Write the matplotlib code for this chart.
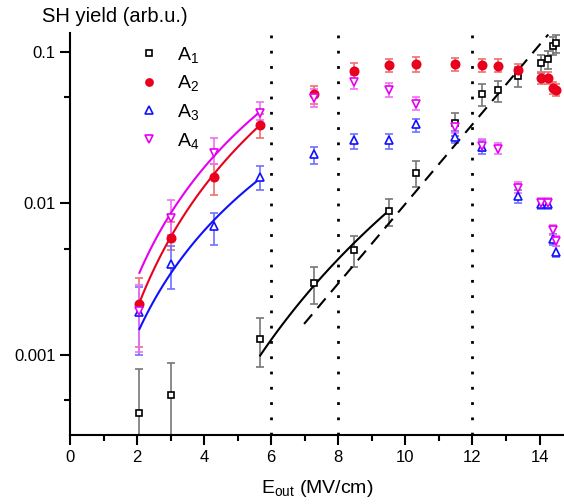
import numpy as np
import matplotlib
matplotlib.use("Agg")
import matplotlib.pyplot as plt

plt.rcParams['font.family'] = ['Liberation Sans', 'DejaVu Sans']
plt.rcParams['mathtext.default'] = 'regular'

# field values (MV/cm)
e_out = [2.07, 3.01, 4.28, 5.67, 7.29, 8.46, 9.50, 10.32, 11.48, 12.29,
         12.76, 13.35, 14.03, 14.26, 14.39, 14.50]

# SH yield, with lower / upper ends of the error bars
a1 = [0.000416, 0.000543, np.nan, 0.00128, 0.00296, 0.00494, 0.0089, 0.0159,
      0.0337, 0.0528, 0.0558, 0.0689, 0.0838, 0.089, 0.1095, 0.1135]
a1_lo = [0.00001, 0.00001, np.nan, 0.00083, 0.00216, 0.0038, 0.0071, 0.0129,
         0.028, 0.0438, 0.0469, 0.0582, 0.072, 0.0765, 0.095, 0.0985]
a1_hi = [0.00081, 0.00089, np.nan, 0.00174, 0.00378, 0.0061, 0.01066, 0.0189,
         0.0396, 0.0612, 0.0644, 0.0796, 0.095, 0.1015, 0.125, 0.129]

a2 = [0.00218, 0.00593, 0.0149, 0.0328, 0.0526, 0.0746, 0.0813, 0.083,
      0.083, 0.0813, 0.0805, 0.0757, 0.0667, 0.0667, 0.058, 0.0561]
a2_lo = [0.00113, 0.0049, 0.0113, 0.0271, 0.0455, 0.066, 0.073, 0.074,
         0.075, 0.073, 0.073, 0.069, 0.061, 0.061, 0.053, 0.051]
a2_hi = [0.0032, 0.0075, 0.0183, 0.0387, 0.0597, 0.084, 0.090, 0.092,
         0.091, 0.090, 0.089, 0.083, 0.073, 0.073, 0.063, 0.061]

a3 = [0.00193, 0.00396, 0.00708, 0.0149, 0.0211, 0.0262, 0.0262, 0.0332,
      0.0273, 0.0234, np.nan, 0.0111, 0.0099, 0.0099, 0.0058, 0.0048]
a3_lo = [0.0010, 0.0027, 0.0053, 0.0122, 0.0182, 0.0228, 0.0228, 0.0297,
         0.025, 0.021, np.nan, 0.0101, 0.0092, 0.0092, 0.0053, 0.0044]
a3_hi = [0.0028, 0.0052, 0.0086, 0.0176, 0.0237, 0.0288, 0.0288, 0.036,
         0.030, 0.026, np.nan, 0.0122, 0.0106, 0.0106, 0.0063, 0.0052]

a4 = [0.00195, 0.0080, 0.0216, 0.0396, 0.0494, 0.0628, 0.0558, 0.045,
      0.032, 0.024, 0.0228, 0.0127, 0.0101, 0.0101, 0.00667, 0.00564]
a4_lo = [0.00104, 0.0062, 0.0183, 0.0354, 0.0434, 0.0565, 0.0506, 0.041,
         0.029, 0.022, 0.021, 0.0117, 0.0094, 0.0094, 0.0062, 0.0052]
a4_hi = [0.0029, 0.0105, 0.0268, 0.0464, 0.057, 0.070, 0.0624, 0.050,
         0.035, 0.0265, 0.025, 0.0138, 0.0108, 0.0108, 0.0072, 0.0061]

# power-law fits y = y0 * (x / x0)^n
fit_a4 = dict(x0=2.07, y0=0.00348, n=2.43, x1=5.67)
fit_a2 = dict(x0=2.07, y0=0.00221, n=2.68, x1=5.67)
fit_a3 = dict(x0=2.07, y0=0.00148, n=2.27, x1=5.67)
fit_a1 = dict(x0=5.67, y0=0.00099, n=4.26, x1=9.50)
# exponential fit (dashed) between two end points
exp_x = [6.98, 14.26]
exp_y = [0.0016, 0.130]

v_lines = [6, 8, 12]

fig = plt.figure(figsize=(5.64, 5.04), dpi=100)
ax = fig.add_axes([70 / 564, 69 / 504, 494 / 564, 402 / 504])


def series(y, lo, hi, color, ecolor, marker, ms, mfc, label):
    y = np.array(y)
    err = [y - np.array(lo), np.array(hi) - y]
    ax.errorbar(e_out, y, yerr=err, fmt='none', ecolor=ecolor, elinewidth=1.2,
                capsize=3.2, capthick=1.2, zorder=2)
    ax.plot(e_out, y, linestyle='none', marker=marker, ms=ms, mfc=mfc,
            mec=color, mew=1.2, label=label, zorder=4)


def power_fit(f, color):
    xs = np.linspace(f['x0'], f['x1'], 100)
    ax.plot(xs, f['y0'] * (xs / f['x0']) ** f['n'], color=color, lw=1.5, zorder=3)


series(a1, a1_lo, a1_hi, 'black', '#777777', 's', 4.5, 'white', 'A$_1$')
series(a2, a2_lo, a2_hi, '#e8001c', '#ef6f6f', 'o', 6, '#e8001c', 'A$_2$')
series(a3, a3_lo, a3_hi, '#1010ff', '#6f6fff', '^', 6, 'white', 'A$_3$')
series(a4, a4_lo, a4_hi, '#e600f0', '#f070f5', 'v', 6, 'white', 'A$_4$')

power_fit(fit_a4, '#e600f0')
power_fit(fit_a2, '#e8001c')
power_fit(fit_a3, '#1010ff')
power_fit(fit_a1, 'black')

b = np.log(exp_y[1] / exp_y[0]) / (exp_x[1] - exp_x[0])
xs = np.linspace(exp_x[0], exp_x[1], 100)
ax.plot(xs, exp_y[0] * np.exp(b * (xs - exp_x[0])), color='black', lw=1.5,
        linestyle=(0, (6, 4)), zorder=3)

for xv in v_lines:
    ax.axvline(xv, color='black', lw=2, linestyle=(0, (1, 4.5)), zorder=1)

ax.set_yscale('log')
ax.set_xlim(0, 14.73)
ax.set_ylim(0.000296, 0.133)
ax.set_xticks(range(0, 15, 2))
ax.set_xticks(range(1, 15, 2), minor=True)
ax.yaxis.set_major_locator(matplotlib.ticker.LogLocator(base=10, numticks=10))
ax.yaxis.set_minor_locator(matplotlib.ticker.LogLocator(base=10, subs=[5], numticks=10))
ax.yaxis.set_major_formatter(matplotlib.ticker.FuncFormatter(lambda v, p: f'{v:g}'))
ax.yaxis.set_minor_formatter(matplotlib.ticker.NullFormatter())

for s in ['top', 'right']:
    ax.spines[s].set_visible(False)
for s in ['left', 'bottom']:
    ax.spines[s].set_linewidth(1.5)
ax.tick_params(which='major', direction='out', length=7, width=1.5, labelsize=12)
ax.tick_params(which='minor', direction='out', length=4, width=1.5)

ax.set_xlabel('E$_{out}$ (MV/cm)', fontsize=14, labelpad=10)
fig.text(42 / 564, 1 - 16 / 504, 'SH yield (arb.u.)', fontsize=14.5,
         ha='left', va='center')

leg = ax.legend(loc='upper left', bbox_to_anchor=(0.11, 0.995), frameon=False,
                fontsize=14, handletextpad=0.7, labelspacing=0.45,
                handlelength=1.5, borderpad=0, markerscale=0.85)

fig.savefig('out.png', dpi=100)
